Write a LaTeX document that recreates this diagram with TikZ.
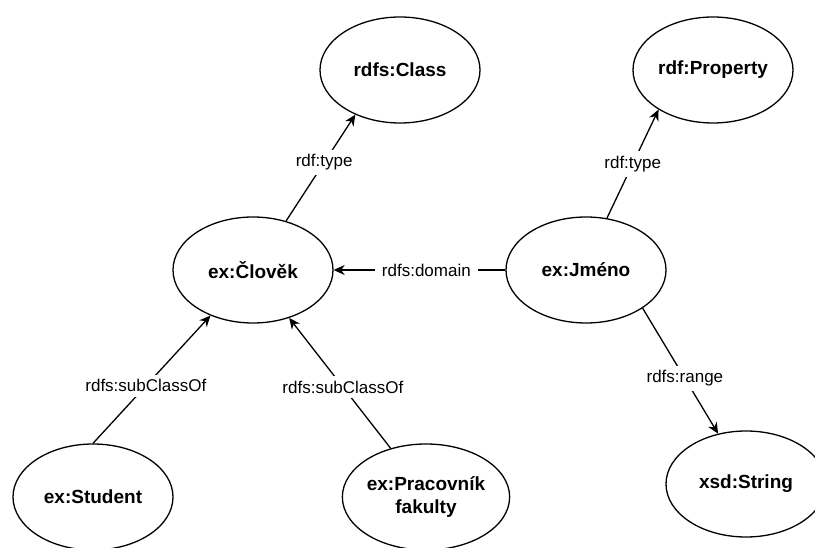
\documentclass[tikz,border=0pt]{standalone}
\usepackage{fontspec}
\setmainfont{Liberation Sans}
\usetikzlibrary{shapes.geometric,arrows.meta}

\tikzset{
  res/.style={ellipse, draw=black, line width=1.3pt, fill=white,
    minimum width=160pt, minimum height=106pt, inner sep=0pt,
    font=\fontsize{19}{23}\selectfont\bfseries, align=center},
  rel/.style={draw=black, line width=1.3pt,
    -{Stealth[length=11pt,width=10pt,inset=3.5pt]}},
  lbl/.style={fill=white, inner xsep=7pt, inner ysep=5pt,
    font=\fontsize{17}{20}\selectfont}
}

\begin{document}
\begin{tikzpicture}[x=1pt,y=-1pt]
  \useasboundingbox (0,0) rectangle (815,548);
  \clip (0,0) rectangle (815,548);

  % resources
  \node[res] (cls)     at (400,70)  {rdfs:Class};
  \node[res] (prop)    at (713,70)  {rdf:Property};
  \node[res] (clovek)  at (253,270) {ex:Člověk};
  \node[res] (jmeno)   at (586,270) {ex:Jméno};
  \node[res] (student) at (93,497)  {ex:Student};
  \node[res] (prac)    at (426,497) {ex:Pracovník\\fakulty};
  \node[res] (str)     at (746,484) {xsd:String};

  % statements
  \draw[rel] (clovek.56.9) -- node[lbl,pos=0.55] {rdf:type} (cls.225.6);
  \draw[rel] (jmeno.68.4) -- node[lbl,pos=0.5] {rdf:type} (prop.216.4);
  \draw[rel] (jmeno.west) -- node[lbl,pos=0.46] {rdfs:domain} (clovek.east);
  \draw[rel] (student.north) -- node[lbl,pos=0.45] {rdfs:subClassOf} (clovek.227.5);
  \draw[rel] (prac.126.9) -- node[lbl,pos=0.47] {rdfs:subClassOf} (clovek.307.6);
  \draw[rel] (jmeno.326.8) -- node[lbl,pos=0.56] {rdfs:range} (str.119.6);
\end{tikzpicture}
\end{document}
